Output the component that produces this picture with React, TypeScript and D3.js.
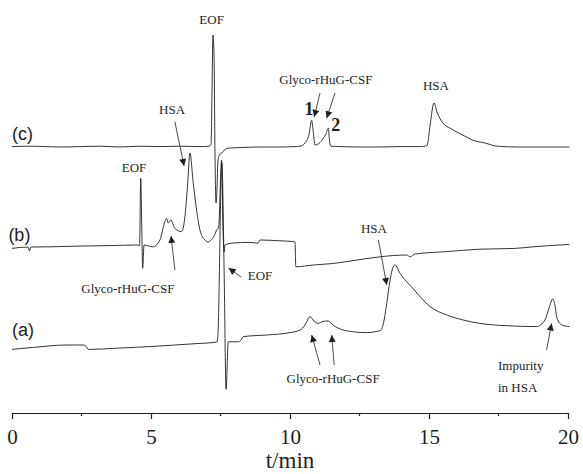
import React, { useEffect, useRef } from 'react';
import * as d3 from 'd3';

// electropherograms, [time (min), signal relative to the trace baseline]
const traceC: [number, number][] = [
  [0, 0], [0.65, 0.1], [1.19, 0], [1.73, -0.1], [2.45, 0], [3.17, 0.1], [3.88, -0.1],
  [4.6, 0.1], [5.32, 0], [6.04, 0.1], [6.76, 0], [7.09, 0.1], [7.16, 0.6], [7.19, 11.6],
  [7.23, 27.9], [7.27, 21.6], [7.3, -0.9], [7.34, -14.1], [7.37, -10.9], [7.41, -3.4],
  [7.48, -1.9], [7.55, -1.6], [7.63, -0.9], [7.77, -0.4], [8.2, -0.25], [8.92, -0.1],
  [9.64, -0.1], [10.18, 0], [10.36, 0.1], [10.54, 0.9], [10.68, 2.9], [10.78, 6.6],
  [10.83, 4.1], [10.9, 0.4], [11.0, 0.6], [11.15, 1.6], [11.29, 3.1], [11.38, 4.6],
  [11.42, 1.6], [11.47, 0.1], [11.8, 0], [12.52, -0.1], [13.24, -0.1], [13.96, 0],
  [14.68, 0], [14.93, 0.25], [15.04, 5.4], [15.18, 10.9], [15.29, 8.6], [15.5, 5.9],
  [15.76, 4.6], [16.01, 3.6], [16.29, 2.6], [16.58, 1.6], [17.01, 0.9], [17.45, 0.1],
  [18.27, -0.1], [19.17, -0.1], [20.05, -0.1],
];

const traceB: [number, number][] = [
  [0, -0.6], [0.58, -0.25], [0.63, -1.25], [0.68, -0.25], [1.37, -0.2], [2.55, 0],
  [3.53, 0.1], [4.49, 0.25], [4.59, 0.1], [4.63, 16.9], [4.67, 4], [4.7, -5.6],
  [4.75, 0.25], [5.07, -0.2], [5.32, 1.5], [5.5, 6.1], [5.56, 6.9], [5.62, 5.75],
  [5.71, 6.5], [5.86, 4.4], [6.1, 3.6], [6.22, 7.3], [6.32, 15.7], [6.4, 23.25],
  [6.52, 15.7], [6.64, 9], [6.76, 4], [6.94, 1.5], [7.05, 1], [7.16, 1.5], [7.27, 2.5],
  [7.36, 4], [7.43, 4.5], [7.54, 21.5], [7.59, 4], [7.63, -1.5], [7.66, 0.25],
  [7.95, 0.75], [8.56, 0.9], [8.85, 0.7], [8.92, 1.5], [9.64, 1.3], [10.12, 1.1],
  [10.18, 1], [10.21, -5.2], [10.84, -4.75], [11.5, -4.4], [12.04, -3.9], [12.7, -3.2],
  [13.24, -2.7], [14.2, -2.25], [14.32, -2.7], [14.5, -2], [15.64, -1.4], [16.83, -0.8],
  [18.1, -0.6], [18.74, -0.2], [20.05, 0.4],
];

const traceA: [number, number][] = [
  [0, -1.6], [0.77, -1.1], [1.97, -0.5], [2.56, -0.5], [2.66, -0.75], [2.74, -1.6],
  [3.77, -1.3], [4.96, -0.9], [5.86, -0.5], [6.76, -0.1], [7.36, 0.2], [7.4, 1.25],
  [7.55, 45], [7.63, 18.25], [7.7, -11.6], [7.78, 0.3], [8.14, 0.3], [8.24, 0.75],
  [8.32, 1.6], [9.16, 2], [10.0, 2.6], [10.36, 3.25], [10.54, 4.5], [10.72, 6.6],
  [10.86, 5.5], [11.02, 4.9], [11.19, 5.4], [11.38, 5.5], [11.55, 4.5], [11.74, 3.7],
  [12.28, 2.8], [12.76, 2.6], [13.24, 3.1], [13.36, 4.9], [13.48, 9.9], [13.6, 15.75],
  [13.71, 19], [13.78, 19.5], [13.96, 17.4], [14.44, 13.5], [15.04, 9.1], [15.64, 7],
  [16.23, 5.75], [16.83, 4.9], [18.03, 4.25], [18.87, 4.1], [19.17, 5.75], [19.32, 8.75],
  [19.45, 11], [19.53, 9.5], [19.6, 6.25], [19.78, 4.5], [20.05, 4.1],
];

const traces = [
  { name: '(c)', offset: 66.6, data: traceC },
  { name: '(b)', offset: 41.75, data: traceB },
  { name: '(a)', offset: 17.5, data: traceA },
];

const majorTicks = [0, 5, 10, 15, 20];
const minorTicks = [2.5, 7.5, 12.5, 17.5];

// labels placed in data units [time, signal]
const labels = [
  { text: 'EOF', at: [7.18, 97.25], anchor: 'middle' },
  { text: 'HSA', at: [5.76, 74.75], anchor: 'middle' },
  { text: 'EOF', at: [4.39, 60.25], anchor: 'middle' },
  { text: 'Glyco-rHuG-CSF', at: [4.17, 30], anchor: 'middle' },
  { text: 'EOF', at: [8.92, 33.25], anchor: 'middle' },
  { text: 'Glyco-rHuG-CSF', at: [11.29, 82.25], anchor: 'middle' },
  { text: 'HSA', at: [15.25, 80.75], anchor: 'middle' },
  { text: 'HSA', at: [13.02, 45], anchor: 'middle' },
  { text: 'Glyco-rHuG-CSF', at: [11.55, 7.5], anchor: 'middle' },
  { text: 'Impurity', at: [17.48, 10.75], anchor: 'start' },
  { text: 'in HSA', at: [17.48, 5.25], anchor: 'start' },
];

const peakNumbers = [
  { text: '1', at: [10.68, 74.5] },
  { text: '2', at: [11.65, 70.5] },
];

const arrows = [
  { from: [5.86, 72.75], to: [6.19, 61.75] },
  { from: [5.86, 35.75], to: [5.72, 44.25] },
  { from: [8.24, 34], to: [7.79, 36.25] },
  { from: [11.08, 80], to: [10.87, 74] },
  { from: [11.62, 80], to: [11.32, 73.7] },
  { from: [13.18, 43.25], to: [13.48, 32] },
  { from: [11.08, 12], to: [10.78, 19.5] },
  { from: [11.59, 12], to: [11.5, 19.5] },
  { from: [19.23, 15.75], to: [19.41, 22.4] },
];

function App() {
  const ref = useRef<SVGSVGElement>(null);

  useEffect(() => {
    document.body.style.margin = '0';
    const svg = d3.select(ref.current);
    svg.selectAll('*').remove();
    const width = 583;
    const height = 474;
    const serif = 'Liberation Serif, Times New Roman, DejaVu Serif, serif';
    const sans = 'Liberation Sans, Arial, sans-serif';
    const ink = '#1e1e1e';

    const x = d3.scaleLinear().domain([0, 20]).range([12, 568]);
    const y = d3.scaleLinear().domain([0, 100]).range([413, 13]);

    svg
      .append('defs')
      .append('marker')
      .attr('id', 'head')
      .attr('viewBox', '0 0 10 10')
      .attr('refX', 10)
      .attr('refY', 5)
      .attr('markerWidth', 9)
      .attr('markerHeight', 7)
      .attr('markerUnits', 'userSpaceOnUse')
      .attr('orient', 'auto')
      .append('path')
      .attr('d', 'M0,0L10,5L0,10Z')
      .attr('fill', ink);

    const line = d3
      .line<[number, number]>()
      .curve(d3.curveMonotoneX);

    traces.forEach(tr => {
      line.x(d => x(d[0])).y(d => y(d[1] + tr.offset));
      svg
        .append('path')
        .datum(tr.data)
        .attr('fill', 'none')
        .attr('stroke', ink)
        .attr('stroke-width', 0.9)
        .attr('stroke-linejoin', 'round')
        .attr('d', line);
    });

    // panel letters
    const letterPos: Record<string, number[]> = {
      '(c)': [0, 68.25],
      '(b)': [-0.13, 43],
      '(a)': [0, 19.25],
    };
    traces.forEach(tr => {
      const p = letterPos[tr.name];
      svg
        .append('text')
        .attr('x', x(p[0]))
        .attr('y', y(p[1]))
        .style('font-family', sans)
        .style('font-size', '18px')
        .attr('fill', ink)
        .text(tr.name);
    });

    svg
      .selectAll('text.lab')
      .data(labels)
      .join('text')
      .attr('class', 'lab')
      .attr('x', d => x(d.at[0]))
      .attr('y', d => y(d.at[1]))
      .attr('text-anchor', d => d.anchor)
      .style('font-family', serif)
      .style('font-size', '13px')
      .attr('fill', ink)
      .text(d => d.text);

    svg
      .selectAll('text.num')
      .data(peakNumbers)
      .join('text')
      .attr('class', 'num')
      .attr('x', d => x(d.at[0]))
      .attr('y', d => y(d.at[1]))
      .attr('text-anchor', 'middle')
      .style('font-family', serif)
      .style('font-weight', 'bold')
      .style('font-size', '18px')
      .attr('fill', ink)
      .text(d => d.text);

    svg
      .selectAll('line.arrow')
      .data(arrows)
      .join('line')
      .attr('class', 'arrow')
      .attr('x1', d => x(d.from[0]))
      .attr('y1', d => y(d.from[1]))
      .attr('x2', d => x(d.to[0]))
      .attr('y2', d => y(d.to[1]))
      .attr('stroke', ink)
      .attr('stroke-width', 0.8)
      .attr('marker-end', 'url(#head)');

    // time axis
    const axis = svg.append('g').attr('transform', `translate(0,${y(0)})`);
    axis.call(
      d3
        .axisBottom(x)
        .tickValues(majorTicks)
        .tickSize(6)
        .tickSizeOuter(0)
        .tickPadding(10)
        .tickFormat(d3.format('d')),
    );
    axis
      .selectAll('line.minor')
      .data(minorTicks)
      .join('line')
      .attr('class', 'minor')
      .attr('x1', d => x(d))
      .attr('x2', d => x(d))
      .attr('y2', 3)
      .attr('stroke', ink)
      .attr('stroke-width', 1.2);
    axis.select('.domain').attr('stroke', ink).attr('stroke-width', 1.2);
    axis.selectAll('.tick line').attr('stroke', ink).attr('stroke-width', 1.2);
    axis
      .selectAll('.tick text')
      .style('font-family', serif)
      .style('font-size', '21px')
      .attr('fill', ink);

    svg
      .append('text')
      .attr('x', x(10))
      .attr('y', height - 6)
      .attr('text-anchor', 'middle')
      .style('font-family', serif)
      .style('font-size', '23px')
      .attr('fill', ink)
      .text('t/min');

    svg.attr('width', width).attr('height', height);
  });

  return (
    <div>
      <svg ref={ref} width="583" height="474" style={{ display: 'block' }} />
    </div>
  );
}

export default App;
